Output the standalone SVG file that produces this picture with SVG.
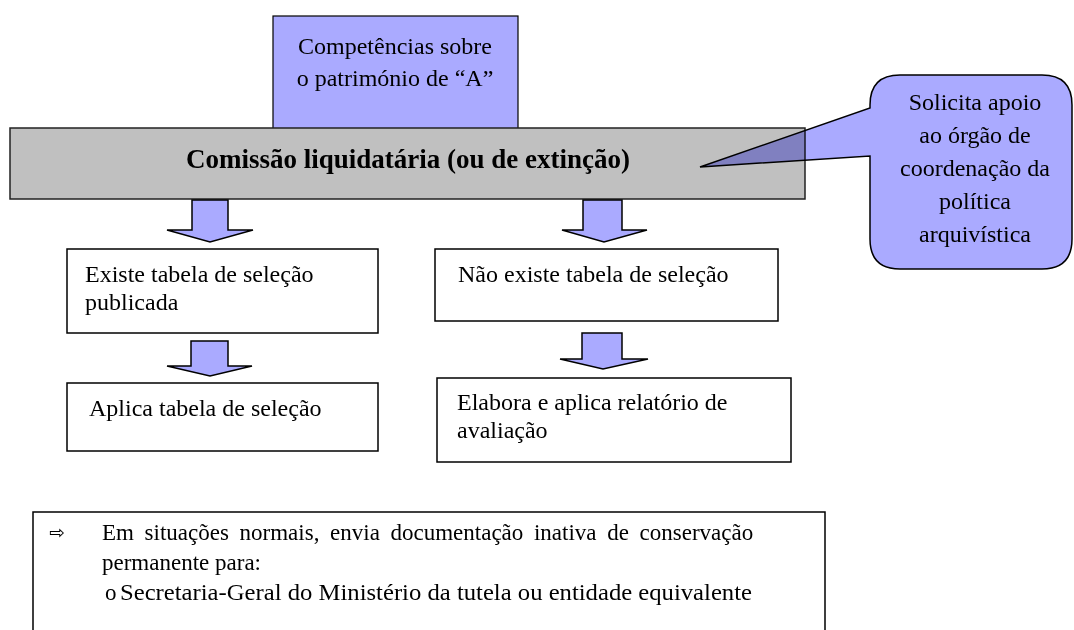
<svg xmlns="http://www.w3.org/2000/svg" width="1074" height="630" viewBox="0 0 1074 630">
<style>
text{font-family:"Liberation Serif","Times New Roman",serif;fill:#000}
.t{font-size:24px}
.b{font-size:23px}
.c{text-anchor:middle}
.box{fill:#fff;stroke:#000;stroke-width:1.5}
.blue{fill:#aaaaff;stroke:#000;stroke-width:1.2}
.arrow{fill:#aaaaff;stroke:#000;stroke-width:1.5;stroke-linejoin:miter}
</style>
<rect width="1074" height="630" fill="#fff"/>
<g id="competencias">
<rect class="blue" x="273" y="16" width="245" height="120"/>
<text class="t c" x="395" y="54">Competências sobre</text>
<text class="t c" x="395" y="86">o património de “A”</text>
</g>
<g id="comissao">
<rect x="10" y="128" width="795" height="71" fill="#c0c0c0" stroke="#222" stroke-width="1.5"/>
<text x="408" y="168" style="font-size:27px;font-weight:bold;text-anchor:middle">Comissão liquidatária (ou de extinção)</text>
</g>
<g id="solicita">
<path d="M900,75 H1042 Q1072,75 1072,105 V239 Q1072,269 1042,269 H900 Q870,269 870,239 V156 L700,167 L870,108 V105 Q870,75 900,75 Z" fill="#aaaaff" stroke="#000" stroke-width="1.5" style="mix-blend-mode:multiply"/>
<text class="t c" x="975" y="110">Solicita apoio</text>
<text class="t c" x="975" y="143">ao órgão de</text>
<text class="t c" x="975" y="176">coordenação da</text>
<text class="t c" x="975" y="209">política</text>
<text class="t c" x="975" y="242">arquivística</text>
</g>
<g id="connectors">
<path class="arrow" d="M192,200 H228 V230 H253 L210,242 L167,230 H192 Z"/>
<path class="arrow" d="M583,200 H622 V230 H647 L604,242 L562,230 H583 Z"/>
<path class="arrow" d="M191,341 H228 V366 H252 L210,376 L167,366 H191 Z"/>
<path class="arrow" d="M582,333 H622 V359 H648 L603,369 L560,359 H582 Z"/>
</g>
<g id="existe">
<rect class="box" x="67" y="249" width="311" height="84"/>
<text class="t" x="85" y="282">Existe tabela de seleção</text>
<text class="t" x="85" y="310">publicada</text>
</g>
<g id="nao-existe">
<rect class="box" x="435" y="249" width="343" height="72"/>
<text class="t" x="458" y="282">Não existe tabela de seleção</text>
</g>
<g id="aplica">
<rect class="box" x="67" y="383" width="311" height="68"/>
<text class="t" x="89" y="416">Aplica tabela de seleção</text>
</g>
<g id="elabora">
<rect class="box" x="437" y="378" width="354" height="84"/>
<text class="t" x="457" y="410">Elabora e aplica relatório de</text>
<text class="t" x="457" y="438">avaliação</text>
</g>
<g id="nota">
<path d="M33,640 V512 H825 V640" fill="#fff" stroke="#000" stroke-width="1.5"/>
<text x="49" y="539" style="font-family:'DejaVu Sans',sans-serif;font-size:19px">⇨</text>
<text class="b" x="102" y="540" word-spacing="4.9">Em situações normais, envia documentação inativa de conservação</text>
<text class="b" x="102" y="570">permanente para:</text>
<text class="b" x="105" y="600">o</text>
<text x="120" y="600" style="font-size:24px" textLength="632" lengthAdjust="spacingAndGlyphs">Secretaria-Geral do Ministério da tutela ou entidade equivalente</text>
</g>
</svg>
